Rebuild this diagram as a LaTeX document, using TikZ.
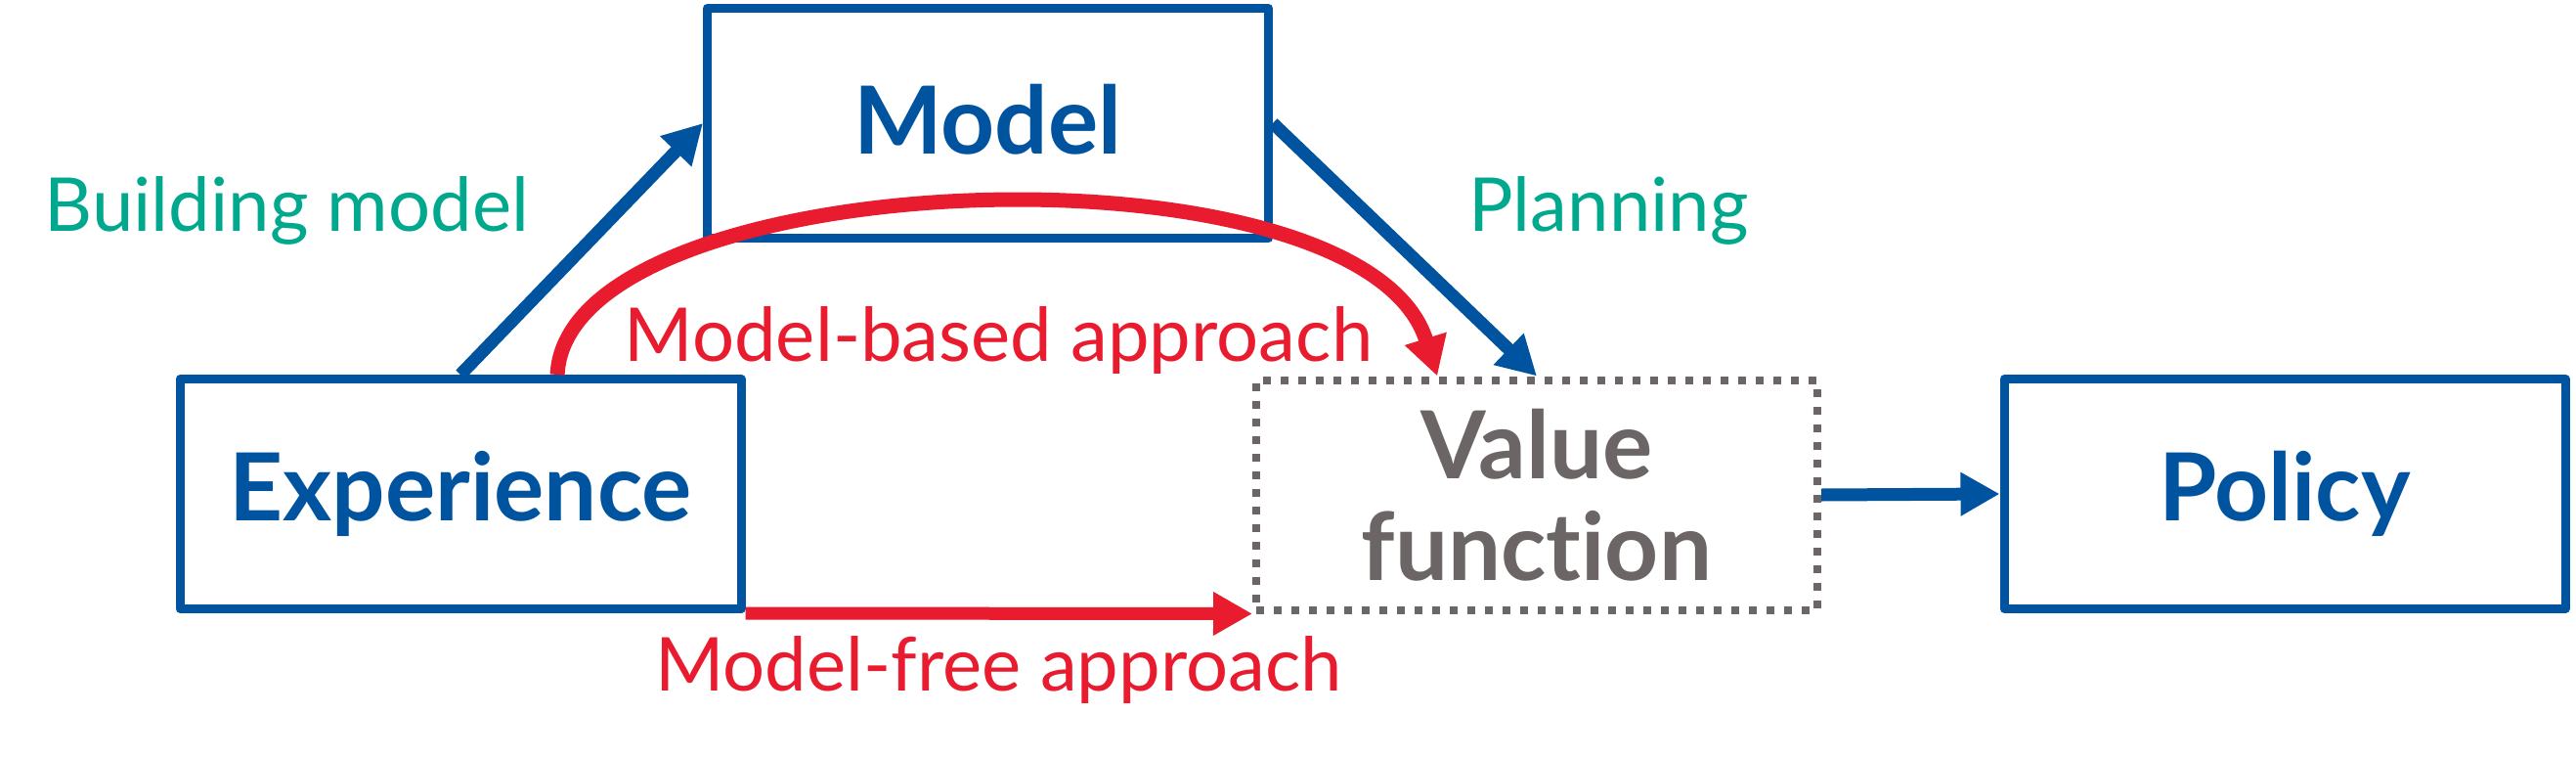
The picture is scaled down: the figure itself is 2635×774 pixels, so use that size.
\documentclass[tikz,border=0pt]{standalone}
\usepackage{fontspec}
\setmainfont{Lato}[Ligatures=NoCommon]
\usetikzlibrary{arrows.meta,calc}
\definecolor{dmblue}{HTML}{00539F}
\definecolor{dmred}{HTML}{E81C2E}
\definecolor{dmteal}{HTML}{00A88E}
\definecolor{dmgray}{HTML}{6B6565}
\begin{document}
\begin{tikzpicture}[x=1pt,y=-1pt,
  boxbase/.style={minimum width=574pt, minimum height=235pt, inner sep=0pt, align=center,
    font=\bfseries\fontsize{96}{104}\selectfont},
  solidbox/.style={boxbase, draw=dmblue, line width=9pt, line join=round, text=dmblue},
  dotbox/.style={boxbase, draw=dmgray, line width=8pt, dash pattern=on 8pt off 10pt, text=dmgray},
  lbl/.style={anchor=base, inner sep=0pt, font=\fontsize{76}{80}\selectfont},
  bluearrow/.style={draw=dmblue, line width=13pt, -{Triangle[length=40pt,width=42pt]}},
  redarrow/.style={draw=dmred, line width=13pt, -{Triangle[length=40pt,width=42pt]}},
  redcurve/.style={draw=dmred, line width=15pt, -{Triangle[length=40pt,width=42pt]}}
]
\useasboundingbox (0,0) rectangle (2635,774);
\fill[white] (0,0) rectangle (2635,774);

\node[solidbox] (exp) at (471,505) {Experience};
\node[solidbox, text depth=8pt] (mdl) at (1010.5,126) {Model};
\node[dotbox]   (val) at (1572,506) {Value\\function};
\node[solidbox] (pol) at (2337,505) {Policy};

\node[lbl, text=dmteal] (lbuild) at (293.5,236) {Building model};
\node[lbl, text=dmteal] (lplan) at (1645.5,236) {Planning};
\node[lbl, text=dmred] (lmb) at (1021.5,369) {Model-based approach};
\node[lbl, text=dmred] (lmf) at (1021.5,706) {Model-free approach};

\draw[bluearrow] (exp.north) -- (mdl.west);
\draw[bluearrow] (mdl.east) -- (val.north);
\draw[bluearrow] (val.east) -- (pol.west);
\draw[redarrow] (exp.south east) -- (val.south west);

\coordinate (mbstart) at ($(exp.north west)!0.67!(exp.north east)$);
\coordinate (mbend) at ($(val.north west)!0.325!(val.north east)$);
\draw[redcurve] (mbstart) .. controls ($(mbstart)+(10,-217)$) and ($(mbend)+(-77,-248)$) .. (mbend);
\end{tikzpicture}
\end{document}
